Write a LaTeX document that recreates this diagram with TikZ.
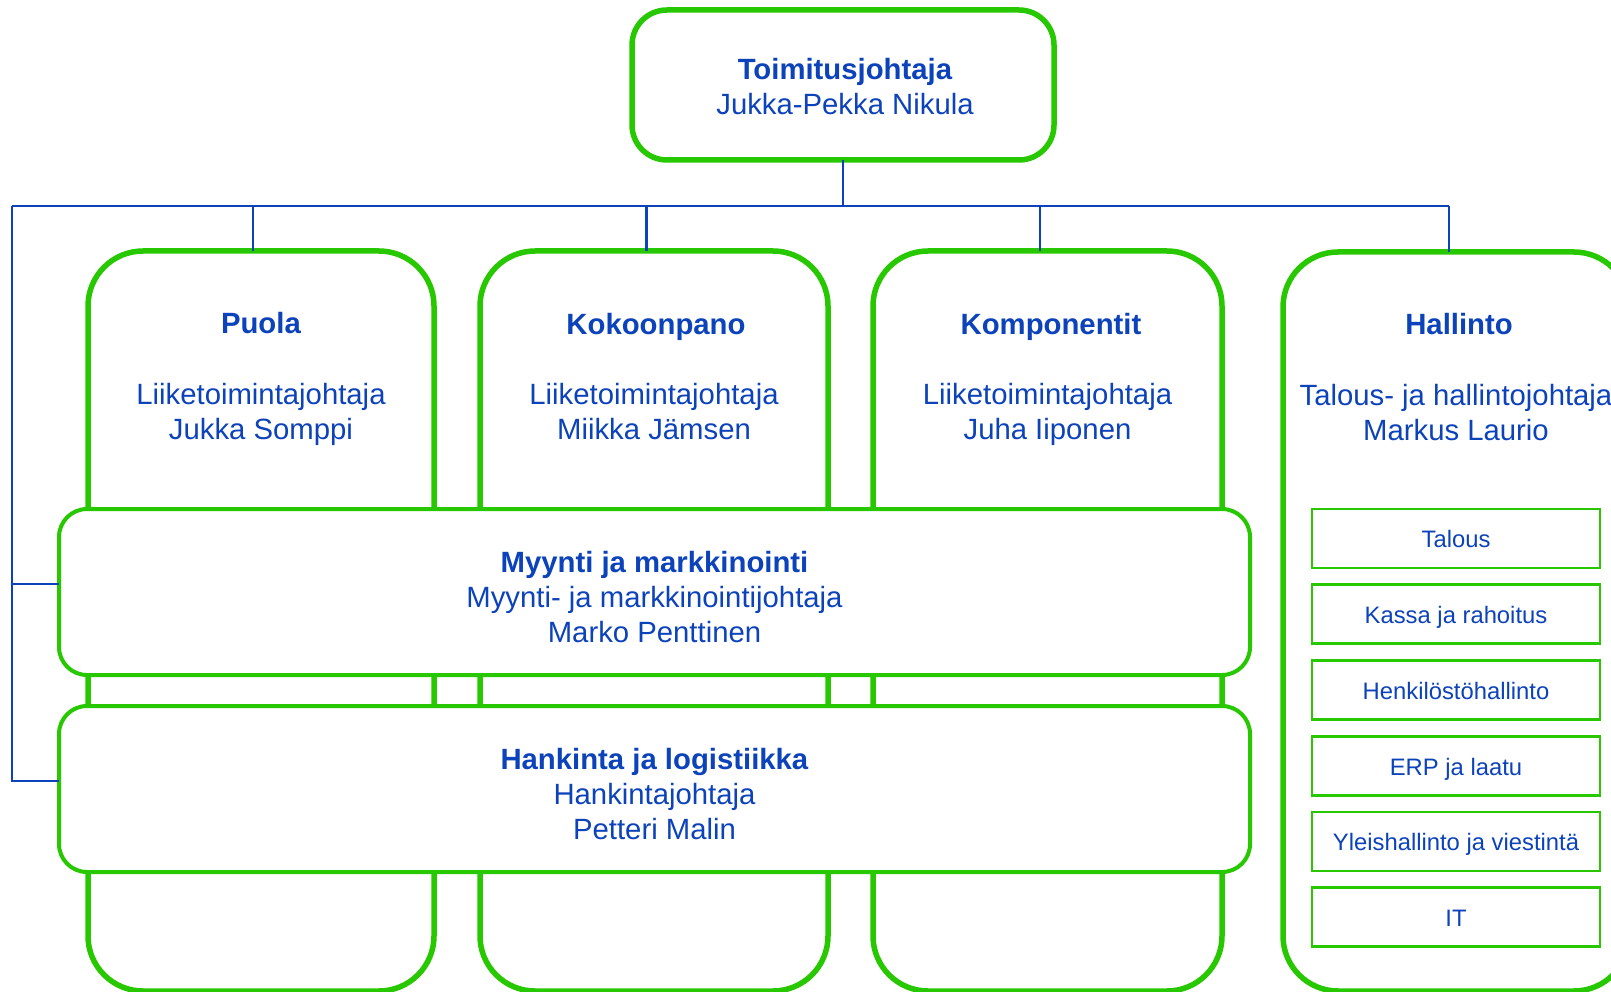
\documentclass[tikz,border=0pt]{standalone}
\usepackage{fontspec}
\setmainfont{Liberation Sans}
\definecolor{gr}{RGB}{40,200,0}
\definecolor{bl}{RGB}{12,66,186}
\newcommand{\mylines}[1]{\begin{tabular}[t]{@{}c@{}}#1\end{tabular}}
\begin{document}
\begin{tikzpicture}[x=1pt,y=-1pt,
  bigbox/.style={draw=gr, line width=5.5pt, fill=white, rounded corners=55pt, inner sep=0pt, outer sep=0pt},
  topbox/.style={draw=gr, line width=5.5pt, fill=white, rounded corners=35pt, inner sep=0pt, outer sep=0pt},
  midbox/.style={draw=gr, line width=4pt, fill=white, rounded corners=28pt, inner sep=0pt, outer sep=0pt},
  subbox/.style={draw=gr, line width=2.2pt, fill=white, inner sep=0pt, outer sep=0pt,
    minimum width=288pt, minimum height=59pt},
  txt/.style={text=bl, inner sep=0pt, anchor=base, font=\fontsize{29.3}{35}\selectfont},
  subtxt/.style={text=bl, inner sep=0pt, anchor=base, font=\fontsize{23.8}{28}\selectfont},
  conn/.style={draw=bl, line width=2.5pt}]
\useasboundingbox (0,0) rectangle (1611,992);
\clip (0,0) rectangle (1611,992);

% boxes
\node[topbox, minimum width=422pt, minimum height=150pt] (top) at (843,85) {};
\node[bigbox, minimum width=346pt, minimum height=740pt] (puola) at (261,621) {};
\node[bigbox, minimum width=348pt, minimum height=740pt] (koko) at (654,621) {};
\node[bigbox, minimum width=349pt, minimum height=740pt] (komp) at (1047.5,621) {};
\node[bigbox, minimum width=346pt, minimum height=739pt] (hall) at (1456,621.5) {};
\node[midbox, minimum width=1191pt, minimum height=166pt] (myyn) at (654.5,592) {};
\node[midbox, minimum width=1191pt, minimum height=166pt] (hank) at (654.5,789) {};

% sub boxes of Hallinto
\node[subbox] (s1) at (1456,538.5) {};
\node[subbox] (s2) at (1456,614) {};
\node[subbox] (s3) at (1456,690) {};
\node[subbox] (s4) at (1456,766) {};
\node[subbox] (s5) at (1456,841.5) {};
\node[subbox] (s6) at (1456,917) {};

% connectors
\coordinate (lt) at (12,206);
\coordinate (rt) at (1449,206);
\coordinate (d1) at ([xshift=-8pt]puola.north);
\coordinate (d2) at ([xshift=-7.5pt]koko.north);
\coordinate (d3) at ([xshift=-7.5pt]komp.north);
\coordinate (d4) at ([xshift=-7pt]hall.north);
\coordinate (m1) at ([yshift=8pt]myyn.west);
\coordinate (m2) at ([yshift=8pt]hank.west);
\draw[conn] (lt) -- (rt);
\draw[conn] (top.south) -- (top.south |- lt);
\draw[conn] (d1 |- lt) -- (d1);
\draw[conn] (d2 |- lt) -- (d2);
\draw[conn] (d3 |- lt) -- (d3);
\draw[conn] (d4 |- lt) -- (d4);
\draw[conn] (lt) |- (m2);
\draw[conn] (lt |- m1) -- (m1);

% texts
\node[txt] (tTop) at (845,80) {\mylines{\textbf{Toimitusjohtaja}\\Jukka-Pekka Nikula}};

\node[txt] (tP1) at (261,333) {\textbf{Puola}};
\node[txt] (tP2) at (261,404) {\mylines{Liiketoimintajohtaja\\Jukka Somppi}};
\node[txt] (tK1) at (656,334) {\textbf{Kokoonpano}};
\node[txt] (tK2) at (654,404) {\mylines{Liiketoimintajohtaja\\Miikka Jämsen}};
\node[txt] (tC1) at (1051,334) {\textbf{Komponentit}};
\node[txt] (tC2) at (1047.5,404) {\mylines{Liiketoimintajohtaja\\Juha Iiponen}};
\node[txt] (tH1) at (1459,334) {\textbf{Hallinto}};
\node[txt] (tH2) at (1456,405) {\mylines{Talous- ja hallintojohtaja\\Markus Laurio}};

\node[txt] (tM) at (654.5,572) {\mylines{\textbf{Myynti ja markkinointi}\\Myynti- ja markkinointijohtaja\\Marko Penttinen}};
\node[txt] (tL) at (654.5,769) {\mylines{\textbf{Hankinta ja logistiikka}\\Hankintajohtaja\\Petteri Malin}};

\node[subtxt] at ([yshift=-9pt]s1.center) {Talous};
\node[subtxt] at ([yshift=-9pt]s2.center) {Kassa ja rahoitus};
\node[subtxt] at ([yshift=-9pt]s3.center) {Henkilöstöhallinto};
\node[subtxt] at ([yshift=-9pt]s4.center) {ERP ja laatu};
\node[subtxt] at ([yshift=-9pt]s5.center) {Yleishallinto ja viestintä};
\node[subtxt] at ([yshift=-9pt]s6.center) {IT};
\end{tikzpicture}
\end{document}
